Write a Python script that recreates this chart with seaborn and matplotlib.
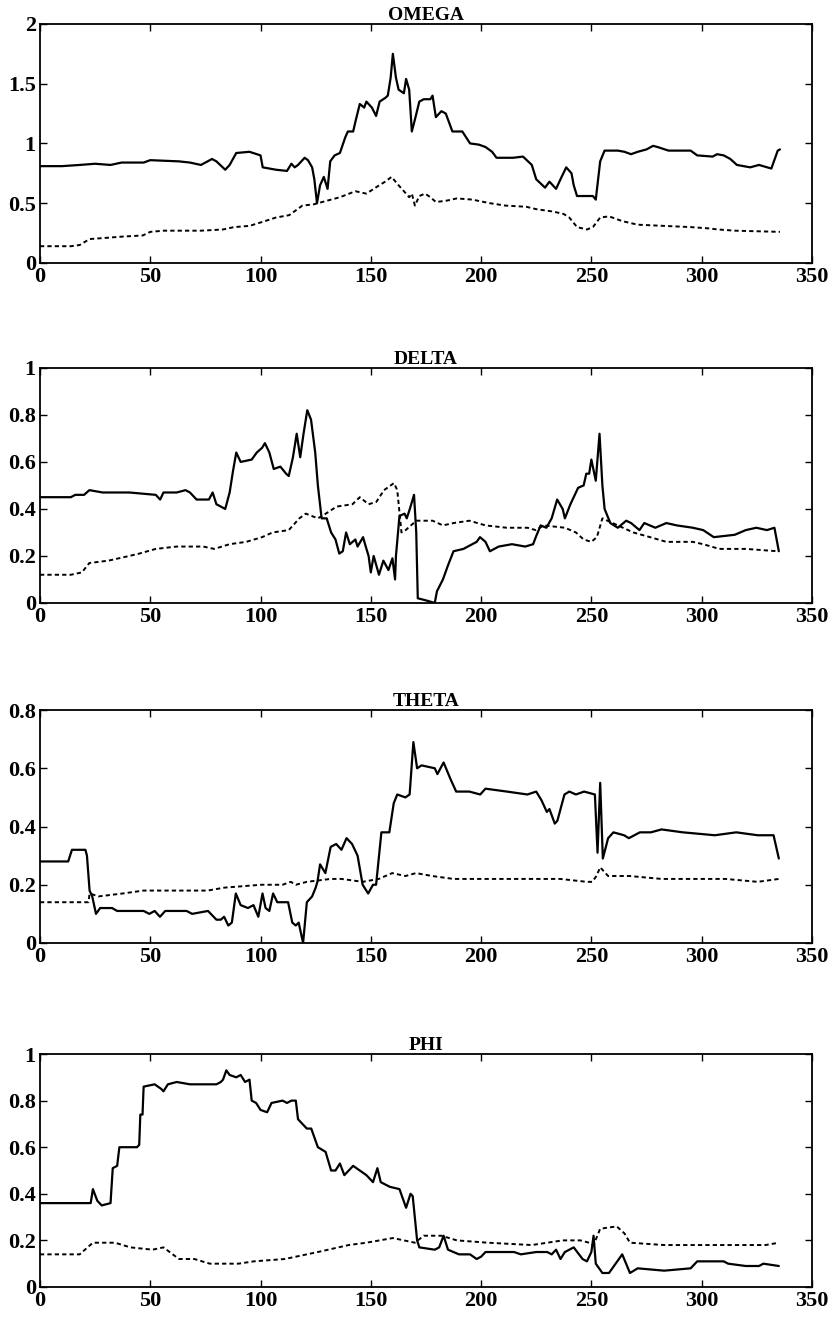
import numpy as np
import pandas as pd
import matplotlib
matplotlib.use("Agg")
import matplotlib.pyplot as plt
import seaborn as sns

omega_solid_x = [0, 10, 18, 25, 32, 37, 47, 50, 63, 68,
                 73, 78, 80, 84, 86, 89, 95, 100, 101, 107,
                 112, 114, 115.5, 117, 120, 121.5, 123.4, 124.4, 125.6, 127,
                 128.7, 130.4, 131.6, 133.6, 136, 138.4, 139.6, 142, 143, 145,
                 147, 148, 150.5, 152.4, 154, 156.5, 157.7, 159, 160, 161.4,
                 162.6, 165, 166, 167.4, 168.6, 170, 172, 174, 177, 178,
                 179.5, 182, 184, 187, 191.5, 195, 199, 202, 205, 207,
                 214.5, 219, 223, 225, 229, 231, 234, 236, 238.6, 241,
                 242, 243.5, 250.7, 252, 254, 256, 262, 265, 268, 271,
                 275, 278, 280, 285, 295, 298, 305, 307, 310, 313,
                 316, 322, 326, 331.6, 334.5, 335.5]
omega_solid_y = [.81, .81, .82, .83, .82, .84, .84, .86, .85, .84,
                 .82, .87, .85, .78, .82, .92, .93, .90, .80, .78,
                 .77, .83, .80, .82, .88, .86, .80, .70, .50, .65,
                 .72, .62, .85, .90, .92, 1.05, 1.10, 1.10, 1.18, 1.33,
                 1.30, 1.35, 1.30, 1.23, 1.35, 1.38, 1.40, 1.55, 1.75, 1.55,
                 1.45, 1.42, 1.54, 1.45, 1.10, 1.20, 1.35, 1.37, 1.37, 1.40,
                 1.22, 1.27, 1.25, 1.10, 1.10, 1.00, .99, .97, .93, .88,
                 .88, .89, .82, .70, .63, .68, .62, .70, .80, .75,
                 .65, .56, .56, .53, .85, .94, .94, .93, .91, .93,
                 .95, .98, .97, .94, .94, .90, .89, .91, .90, .87,
                 .82, .80, .82, .79, .94, .95]
omega_dash_x = [0, 14, 18, 22.5, 30, 37, 46.6, 50, 56, 73,
                83, 88, 95, 102, 107, 113, 119, 124, 130, 136,
                143, 148, 153, 156.5, 159.4, 162.6, 166, 167.4, 168.6, 170,
                172, 174.6, 177, 179.5, 184, 189, 196, 204, 211, 220.5,
                225, 232.6, 237.4, 240, 243.5, 248, 250.7, 254, 258, 264,
                271, 283, 295, 302.6, 307.5, 315, 335.5]
omega_dash_y = [.14, .14, .15, .20, .21, .22, .23, .26, .27, .27,
                .28, .30, .31, .35, .38, .40, .48, .49, .52, .55,
                .60, .58, .64, .68, .72, .65, .58, .55, .58, .48,
                .56, .58, .55, .51, .52, .54, .53, .50, .48, .47,
                .45, .43, .41, .38, .30, .28, .30, .38, .39, .35,
                .32, .31, .30, .29, .28, .27, .26]

delta_solid_x = [0, 14, 16, 20, 22.4, 28.4, 40.5, 52.5, 54.5, 56,
                 62, 66, 68, 71, 76.6, 78.3, 80, 84, 86, 87.5,
                 89, 91, 96, 98.3, 100.7, 102, 104, 106, 109, 111.6,
                 112.8, 114.7, 116.4, 118, 119.5, 121.2, 122.9, 124.8, 126, 127.7,
                 130, 132, 134, 135.7, 137.3, 138.8, 140.5, 143, 144, 146.5,
                 147.7, 149, 150, 151.3, 153.7, 155.7, 158, 159.8, 161, 161.4,
                 163, 165.3, 166.3, 167.7, 169.6, 170.6, 171.3, 175.4, 179, 180,
                 182.7, 185, 187.5, 192, 196, 198, 199.5, 202, 204, 208,
                 214, 220, 223.6, 224.8, 227, 229.6, 232, 234.5, 237, 238,
                 240.5, 244, 246.5, 247.7, 249, 250, 252, 253.7, 255, 256,
                 258.6, 262, 265.8, 268, 271.8, 274, 279, 284, 288.7, 296,
                 300.7, 305.5, 315, 320, 324.8, 329.6, 333, 335]
delta_solid_y = [.45, .45, .46, .46, .48, .47, .47, .46, .44, .47,
                 .47, .48, .47, .44, .44, .47, .42, .40, .47, .56,
                 .64, .60, .61, .64, .66, .68, .64, .57, .58, .55,
                 .54, .62, .72, .62, .72, .82, .78, .64, .50, .36,
                 .36, .30, .27, .21, .22, .30, .25, .27, .24, .28,
                 .24, .20, .13, .20, .12, .18, .14, .19, .10, .20,
                 .37, .38, .36, .40, .46, .30, .02, .01, .00, .05,
                 .10, .16, .22, .23, .25, .26, .28, .26, .22, .24,
                 .25, .24, .25, .28, .33, .32, .36, .44, .40, .36,
                 .42, .49, .50, .55, .55, .61, .52, .72, .50, .40,
                 .34, .32, .35, .34, .31, .34, .32, .34, .33, .32,
                 .31, .28, .29, .31, .32, .31, .32, .22]
delta_dash_x = [0, 14, 19, 22.4, 31, 40.5, 45, 52.5, 62, 74,
                79, 86, 93.5, 100.7, 105.5, 112.8, 117.6, 120.5, 126, 129.6,
                134.5, 141.7, 145, 149, 152.5, 156, 160.5, 162, 163.9, 165.8,
                170.6, 178, 182.7, 187.5, 194.7, 202, 211.6, 221, 224.8, 228.4,
                238, 243, 246.5, 250, 252.5, 255, 257.3, 262, 269, 276.6,
                284, 296, 300.7, 308, 320, 334.5]
delta_dash_y = [.12, .12, .13, .17, .18, .20, .21, .23, .24, .24,
                .23, .25, .26, .28, .30, .31, .36, .38, .36, .38,
                .41, .42, .45, .42, .43, .48, .51, .48, .30, .31,
                .35, .35, .33, .34, .35, .33, .32, .32, .31, .33,
                .32, .30, .27, .26, .28, .36, .35, .33, .30, .28,
                .26, .26, .25, .23, .23, .22]

theta_solid_x = [0, 12.8, 14.5, 20.6, 21.3, 22.5, 23.7, 25.4, 27.3, 32.7,
                 35, 47, 49.6, 52, 54.4, 56.8, 66.5, 69, 76.2, 80,
                 82, 83.5, 85.4, 87, 88.8, 91, 94.3, 96.8, 99, 100.9,
                 102.3, 104, 105.7, 107.6, 112.5, 114.4, 116, 117.3, 119.3, 121,
                 123.4, 125, 125.8, 127, 129.4, 131.8, 134.3, 136.7, 139, 141.5,
                 144, 146.3, 148.8, 151, 152.4, 154.8, 158.4, 160.4, 162, 165.7,
                 167.6, 169.3, 171, 173, 179, 180.2, 183, 186.3, 188.7, 194.7,
                 199.6, 202, 211.7, 221, 225, 227.4, 229.8, 231, 233.4, 234.6,
                 237.8, 240, 243, 246.7, 251.6, 252.8, 254, 255.2, 257.6, 260,
                 264.8, 267, 272, 277, 281.8, 291.5, 306, 315.7, 325.4, 332.6,
                 333.8, 335]
theta_solid_y = [.28, .28, .32, .32, .30, .18, .16, .10, .12, .12,
                 .11, .11, .10, .11, .09, .11, .11, .10, .11, .08,
                 .08, .09, .06, .07, .17, .13, .12, .13, .09, .17,
                 .12, .11, .17, .14, .14, .07, .06, .07, .00, .14,
                 .16, .19, .21, .27, .24, .33, .34, .32, .36, .34,
                 .30, .20, .17, .20, .20, .38, .38, .48, .51, .50,
                 .51, .69, .60, .61, .60, .58, .62, .56, .52, .52,
                 .51, .53, .52, .51, .52, .49, .45, .46, .41, .42,
                 .51, .52, .51, .52, .51, .31, .55, .29, .36, .38,
                 .37, .36, .38, .38, .39, .38, .37, .38, .37, .37,
                 .33, .29]
theta_dash_x = [0, 22, 22.5, 26.6, 37.5, 47, 76, 83.5, 100.4, 110,
                113.7, 116, 121, 131.8, 136.7, 146.3, 153.6, 159.7, 165.7, 170.5,
                177.8, 187.5, 223.8, 235.8, 248, 250.4, 252.3, 254, 257.6, 267.3,
                281.8, 310.8, 325.4, 335]
theta_dash_y = [.14, .14, .17, .16, .17, .18, .18, .19, .20, .20,
                .21, .20, .21, .22, .22, .21, .22, .24, .23, .24,
                .23, .22, .22, .22, .21, .21, .23, .26, .23, .23,
                .22, .22, .21, .22]

phi_solid_x = [0, 23, 24, 26, 28, 32, 33, 35, 36, 44,
               45, 45.5, 46.5, 47, 52, 55, 56, 58, 62, 68,
               80, 82, 83, 84.5, 86, 89, 91, 93, 95, 96,
               98, 100, 103, 105, 110, 112, 114, 116, 117, 121,
               123, 126, 129.5, 132, 134, 136, 138, 142, 145, 148,
               151, 153, 154.5, 158.6, 163, 166, 168, 169, 171, 172,
               179, 181, 183, 185, 190, 195, 198, 200, 202, 210,
               215, 218, 225, 230, 232, 234, 236, 238, 242, 246,
               248, 250, 251, 252, 255, 258, 261, 264, 267.5, 271,
               283, 295, 298, 310, 312, 320, 326, 328, 335]
phi_solid_y = [.36, .36, .42, .37, .35, .36, .51, .52, .60, .60,
               .61, .74, .74, .86, .87, .85, .84, .87, .88, .87,
               .87, .88, .89, .93, .91, .90, .91, .88, .89, .80,
               .79, .76, .75, .79, .80, .79, .80, .80, .72, .68,
               .68, .60, .58, .50, .50, .53, .48, .52, .50, .48,
               .45, .51, .45, .43, .42, .34, .40, .39, .20, .17,
               .16, .17, .22, .16, .14, .14, .12, .13, .15, .15,
               .15, .14, .15, .15, .14, .16, .12, .15, .17, .12,
               .11, .15, .22, .10, .06, .06, .10, .14, .06, .08,
               .07, .08, .11, .11, .10, .09, .09, .10, .09]
phi_dash_x = [0, 18, 24, 34, 41, 51, 56, 63, 70, 77,
              90, 97, 111, 126, 140, 148, 160, 170, 174, 182,
              189, 203, 223, 237, 245, 249, 251, 254, 261.5, 265,
              267.5, 283, 320, 329, 335]
phi_dash_y = [.14, .14, .19, .19, .17, .16, .17, .12, .12, .10,
              .10, .11, .12, .15, .18, .19, .21, .19, .22, .22,
              .20, .19, .18, .20, .20, .19, .18, .25, .26, .23,
              .19, .18, .18, .18, .19]

titles = ["OMEGA", "DELTA", "THETA", "PHI"]
y_max = [2, 1, 0.8, 1]
y_step = [0.5, 0.2, 0.2, 0.2]
x_ticks = [0, 50, 100, 150, 200, 250, 300, 350]

series = [
    (omega_solid_x, omega_solid_y, omega_dash_x, omega_dash_y),
    (delta_solid_x, delta_solid_y, delta_dash_x, delta_dash_y),
    (theta_solid_x, theta_solid_y, theta_dash_x, theta_dash_y),
    (phi_solid_x, phi_solid_y, phi_dash_x, phi_dash_y),
]

sns.set_style("ticks")
plt.rcParams['font.family'] = ['Liberation Serif', 'DejaVu Serif']
plt.rcParams['font.weight'] = 'bold'
plt.rcParams['text.color'] = 'black'

fig = plt.figure(figsize=(8.36, 13.22), dpi=100)

# axes boxes in figure fractions (left, bottom, width, height)
boxes = [
    (0.0478, 0.8011, 0.9234, 0.1808),
    (0.0478, 0.5439, 0.9234, 0.1778),
    (0.0478, 0.2867, 0.9234, 0.1762),
    (0.0478, 0.0265, 0.9234, 0.1762),
]

for i, (sx, sy, dx, dy) in enumerate(series):
    ax = fig.add_axes(boxes[i])
    solid = pd.DataFrame({"x": sx, "y": sy})
    dash = pd.DataFrame({"x": dx, "y": dy})
    sns.lineplot(data=dash, x="x", y="y", ax=ax, color="black",
                 linewidth=1.4, linestyle=(0, (2.2, 1.6)),
                 estimator=None, sort=False)
    sns.lineplot(data=solid, x="x", y="y", ax=ax, color="black",
                 linewidth=1.6, estimator=None, sort=False)

    ax.set_xlim(0, 350)
    ax.set_ylim(0, y_max[i])
    yt = np.round(np.arange(0, y_max[i] + 1e-9, y_step[i]), 2)
    ax.set_yticks(yt)
    ax.set_yticklabels([f"{v:g}" for v in yt])
    ax.set_xticks(x_ticks)
    ax.set_xticklabels([str(v) for v in x_ticks])
    ax.set_xlabel("")
    ax.set_ylabel("")
    ax.set_title(titles[i], fontsize=14, fontweight="bold", pad=3,
                 color="black")
    ax.tick_params(direction="in", length=5, width=1, top=True, right=True,
                   labelsize=16, pad=3, colors="black")
    for s in ax.spines.values():
        s.set_linewidth(1.3)
        s.set_color("black")

fig.savefig("out.png", dpi=100)
